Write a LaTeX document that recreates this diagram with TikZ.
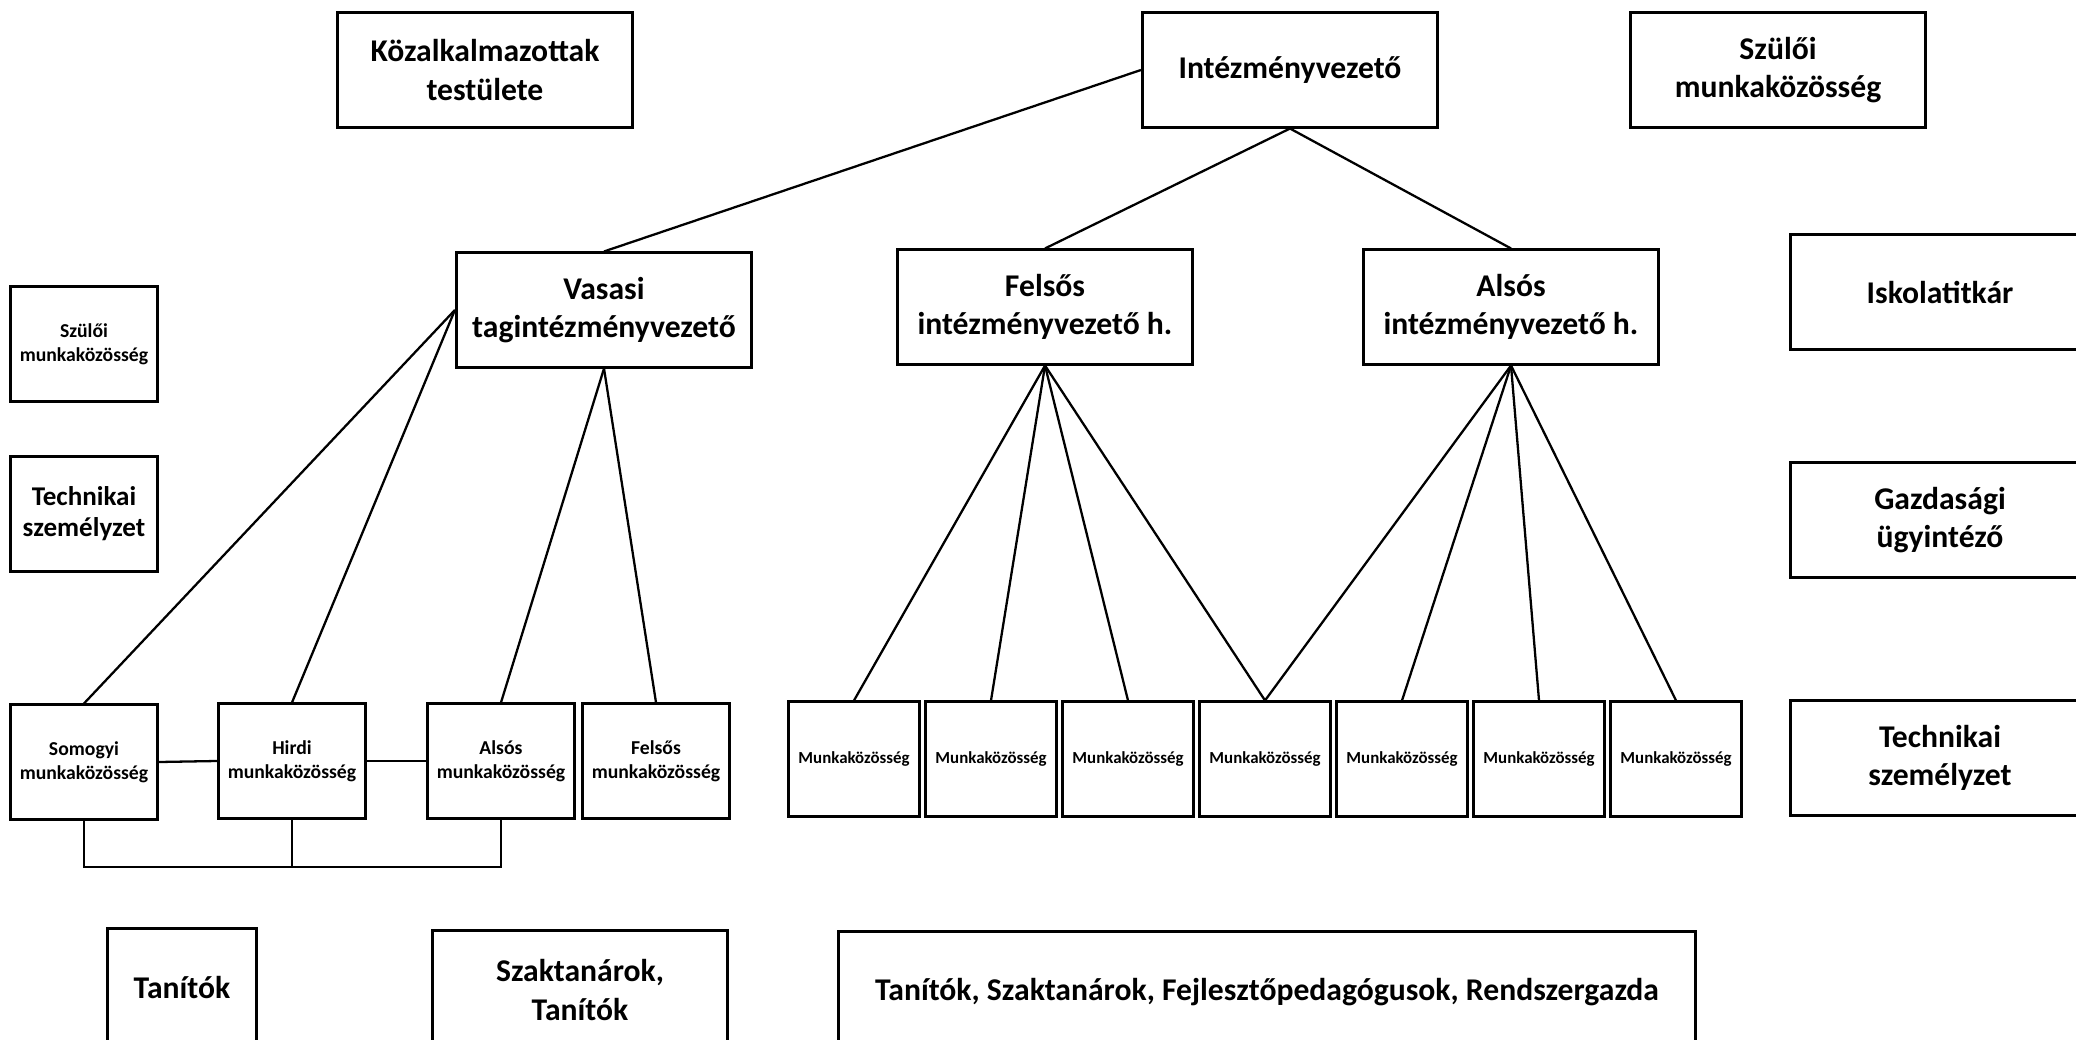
\documentclass[tikz,border=0pt]{standalone}
\usepackage{fontspec}
\setmainfont{Carlito}
\usetikzlibrary{positioning}

\begin{document}
\begin{tikzpicture}[x=0.01cm, y=-0.01cm,
        box/.style={draw, line width=0.85pt, inner sep=0pt, align=center,
            font=\fontsize{9}{11}\selectfont\bfseries},
        bigbox/.style={box, minimum width=2.95cm, minimum height=1.14cm},
        mkbox/.style={box, minimum width=1.47cm, minimum height=1.14cm,
            font=\fontsize{5.6}{6.8}\selectfont\bfseries},
        link/.style={line width=0.65pt}]

            \clip (0,0) rectangle (2076,1040);

            \node[bigbox] (kozalk) at (485,70) {Közalkalmazottak\\testülete};
            \node[bigbox] (vezeto) at (1290,70) {Intézményvezető};
            \node[bigbox] (szuloi) at (1778,70) {Szülői\\munkaközösség};

            \node[bigbox] (vasasi) at (604,310) {Vasasi\\tagintézményvezető};
            \node[bigbox] (felsos) at (1045,307) {Felsős\\intézményvezető h.};
            \node[bigbox] (alsos) at (1511,307) {Alsós\\intézményvezető h.};

            \node[bigbox, minimum width=2.98cm] (titkar) at (1940,292) {Iskolatitkár};
            \node[bigbox, minimum width=2.98cm] (gazd) at (1940,520) {Gazdasági\\ügyintéző};
            \node[bigbox, minimum width=2.98cm] (techn) at (1940,758) {Technikai\\személyzet};

            \node[mkbox] (szuloiv) at (84,344) {Szülői\\munkaközösség};
            \node[mkbox, font=\fontsize{7.7}{8.8}\selectfont\bfseries] (technv) at (84,514) {Technikai\\személyzet};

            \node[mkbox] (somogyi) at (84,762) {Somogyi\\munkaközösség};
            \node[mkbox] (hirdi) at (292,761) {Hirdi\\munkaközösség};
            \node[mkbox] (alsosmk) at (501,761) {Alsós\\munkaközösség};
            \node[mkbox] (felsosmk) at (656,761) {Felsős\\munkaközösség};

            \foreach \i in {1,...,7}
            \node[mkbox, minimum width=1.31cm, font=\fontsize{4.8}{6}\selectfont\bfseries] (mk\i) at (717+137*\i,759) {Munkaközösség};

            \node[box, minimum width=1.48cm, minimum height=1.18cm] (tanitok) at (182,988) {Tanítók};
            \node[box, minimum width=2.95cm, minimum height=1.19cm] (szaktanar) at (580,990) {Szaktanárok,\\Tanítók};
            \node[box, minimum width=8.57cm, minimum height=1.2cm] (tantest) at (1267,992) {Tanítók, Szaktanárok, Fejlesztőpedagógusok, Rendszergazda};

            \draw[link] (vezeto.west) -- (vasasi.north);
            \draw[link] (vezeto.south) -- (felsos.north);
            \draw[link] (vezeto.south) -- (alsos.north);

            \draw[link] (vasasi.west) -- (somogyi.north);
            \draw[link] (vasasi.west) -- (hirdi.north);
            \draw[link] (vasasi.south) -- (alsosmk.north);
            \draw[link] (vasasi.south) -- (felsosmk.north);

            \foreach \i in {1,...,4}
            \draw[link] (felsos.south) -- (mk\i.north);
            \foreach \i in {4,...,7}
            \draw[link] (alsos.south) -- (mk\i.north);

            \draw[link] (somogyi.east) -- (hirdi.west);
            \draw[link] (hirdi.east) -- (alsosmk.west);

            \coordinate (gyujto) at (0,867);
            \draw[link] (somogyi.south) -- (somogyi.south |- gyujto) -- (alsosmk.south |- gyujto) -- (alsosmk.south);
            \draw[link] (hirdi.south) -- (hirdi.south |- gyujto);
        \end{tikzpicture}
\end{document}
